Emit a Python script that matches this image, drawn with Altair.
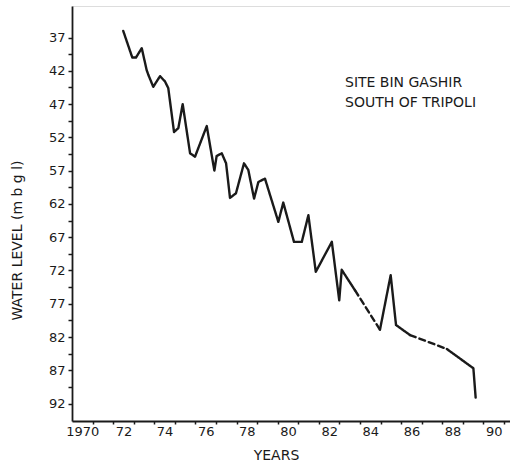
import altair as alt
import pandas as pd

# --- data (year offset from 1900, water level m bgl) ---
years = [71.99, 72.43, 72.61, 72.89, 73.13, 73.21, 73.45, 73.78, 74.02, 74.18,
         74.46, 74.67, 74.88, 75.24, 75.48, 76.05, 76.42, 76.53, 76.78, 76.99,
         77.18, 77.47, 77.86, 78.07, 78.35, 78.56, 78.88, 79.53, 79.77, 80.29,
         80.67, 80.99, 81.35, 82.13, 82.49, 82.61, 83.26, 84.47, 84.99, 85.25,
         85.61, 85.93, 87.72, 89.01, 89.12]
levels = [36.0, 40.0, 40.0, 38.6, 41.9, 42.6, 44.4, 42.8, 43.6, 44.6,
          51.2, 50.6, 47.0, 54.4, 54.9, 50.3, 57.0, 54.8, 54.4, 55.9,
          61.1, 60.4, 55.9, 56.9, 61.2, 58.7, 58.2, 64.7, 61.8, 67.7,
          67.7, 63.7, 72.2, 67.7, 76.5, 71.9, 75.0, 80.9, 72.7, 80.2,
          81.0, 81.7, 83.8, 86.7, 91.1]
# index i means the piece from point i to point i+1 is dashed (gap in record)
dashed_after = [36, 41]

y_ticks = [37 + 2.5 * i for i in range(23)]
x_ticks = [1970.5 + i for i in range(21)]

notes = ["SITE BIN GASHIR", "SOUTH OF TRIPOLI"]
note_year = [1982.77, 1982.77]
note_level = [43.8, 46.9]

# --- build segment table ---
rows = []
seg = 0
cur_style = None
for i in range(len(years) - 1):
    style = "dashed" if i in dashed_after else "solid"
    if style != cur_style:
        seg += 1
        cur_style = style
        rows.append({"seg": seg, "style": style, "year": 1900 + years[i], "level": levels[i], "order": i})
    rows.append({"seg": seg, "style": style, "year": 1900 + years[i + 1], "level": levels[i + 1], "order": i + 1})
df = pd.DataFrame(rows)

ann = pd.DataFrame({"text": notes, "year": note_year, "level": note_level})

FONT = "DejaVu Sans"
INK = "#1a1a1a"

xscale = alt.Scale(domain=[1969.5, 1990.79], nice=False, zero=False)
yscale = alt.Scale(domain=[32.26, 94.62], reverse=True, nice=False, zero=False)

x_label_expr = ("floor(datum.value) % 2 == 0 ? (floor(datum.value) == 1970 ? '1970' : "
                "'' + (floor(datum.value) - 1900)) : ''")

line = alt.Chart(df).mark_line(color=INK, strokeWidth=2.4, strokeCap="round", strokeJoin="round").encode(
    x=alt.X("year:Q", scale=xscale,
            axis=alt.Axis(values=x_ticks, tickCount=500, labelExpr=x_label_expr, labelOffset=-10.3,
                          labelFlush=False, labelOverlap=False, grid=False,
                          tickSize=3, tickColor=INK, tickWidth=1.5,
                          domainColor=INK, domainWidth=1.8,
                          labelFont=FONT, labelFontSize=13, labelColor=INK, labelPadding=1,
                          title="YEARS", titleFont=FONT, titleFontSize=14, titleFontWeight="normal",
                          titleColor=INK, titleX=204, titleY=34, titleBaseline="middle")),
    y=alt.Y("level:Q", scale=yscale,
            axis=alt.Axis(values=y_ticks, tickCount=500,
                          labelExpr="datum.value % 5 == 2 ? datum.value : ''",
                          labelOverlap=False, labelFlush=False, grid=False,
                          tickSize=4, tickColor=INK, tickWidth=1.5,
                          domainColor=INK, domainWidth=1.8,
                          labelFont=FONT, labelFontSize=13, labelColor=INK, labelPadding=3,
                          title="WATER LEVEL (m b g l)", titleFont=FONT, titleFontSize=14,
                          titleFontWeight="normal", titleColor=INK, titleAngle=270,
                          titleX=-54.5, titleY=234, titleAlign="center", titleBaseline="middle")),
    detail="seg:N",
    order="order:Q",
    strokeDash=alt.StrokeDash("style:N", scale=alt.Scale(domain=["solid", "dashed"],
                                                          range=[[1, 0], [6, 4]]), legend=None),
)

text = alt.Chart(ann).mark_text(align="left", baseline="middle", font=FONT, fontSize=14, color=INK).encode(
    x=alt.X("year:Q", scale=xscale),
    y=alt.Y("level:Q", scale=yscale),
    text="text:N",
)

chart = alt.layer(line, text).properties(
    width=438, height=415,
    autosize=alt.AutoSizeParams(type="none"),
    padding={"left": 72, "top": 6, "right": 0, "bottom": 45},
).configure_view(stroke=None).configure(background="white")

chart.save("out.html", embed_options={"renderer": "svg", "actions": False})
